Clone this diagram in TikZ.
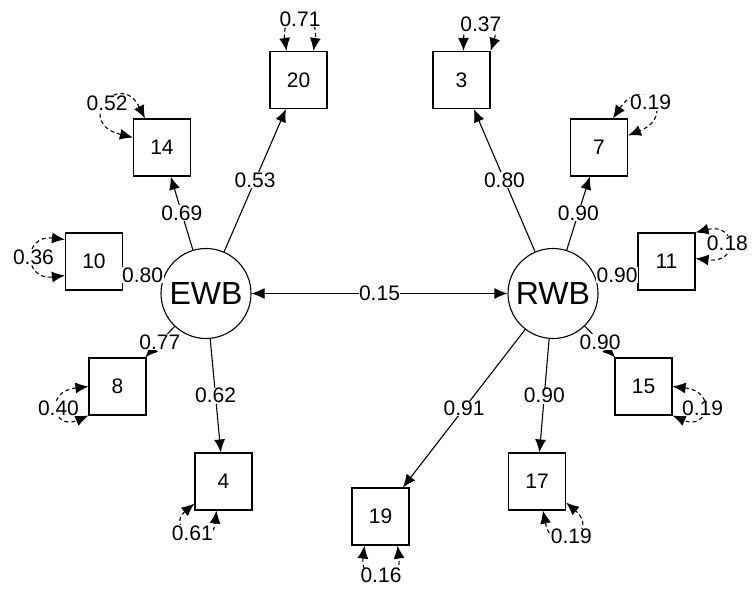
\documentclass[tikz,border=0pt]{standalone}
\usepackage{fontspec}
\setmainfont{Liberation Sans}
\usetikzlibrary{arrows.meta}
\tikzset{
  obs/.style={draw, line width=1.1pt, minimum size=57pt, inner sep=0pt, font=\fontsize{21}{25}\selectfont},
  lat/.style={draw, circle, line width=1.1pt, minimum size=90pt, inner sep=0pt, font=\fontsize{32}{38}\selectfont},
  load/.style={line width=1.1pt, -{Latex[length=13pt,width=11pt]}},
  bidir/.style={line width=1.1pt, {Latex[length=13pt,width=11pt]}-{Latex[length=13pt,width=11pt]}},
  resid/.style={line width=1.1pt, dash pattern=on 4pt off 3pt, {Latex[length=13pt,width=11pt]}-{Latex[length=13pt,width=11pt]}},
  lbl/.style={fill=white, inner sep=0.5pt, font=\fontsize{21}{25}\selectfont},
}
\begin{document}
\begin{tikzpicture}[x=1pt,y=-1pt]
\useasboundingbox (0,0) rectangle (755,590);
% latent variables
\node[lat] (ewb) at (206,293.5) {EWB};
\node[lat] (rwb) at (553,293.5) {RWB};
% observed variables
\node[obs] (b20) at (298.5,80) {20};
\node[obs] (b14) at (162,147.5) {14};
\node[obs] (b10) at (94,261.5) {10};
\node[obs] (b8) at (117.5,386.5) {8};
\node[obs] (b4) at (223.5,481.5) {4};
\node[obs] (b19) at (380.5,516.5) {19};
\node[obs] (b3) at (461.5,80) {3};
\node[obs] (b7) at (599,147.5) {7};
\node[obs] (b11) at (666.5,261.5) {11};
\node[obs] (b15) at (643.5,386.5) {15};
\node[obs] (b17) at (537,481.5) {17};
% loadings
\draw[load] (ewb) -- node[lbl] {0.53} (b20);
\draw[load] (ewb) -- node[lbl] {0.69} (b14);
\draw[load] (ewb) -- node[lbl] {0.80} (b10);
\draw[load] (ewb) -- node[lbl] {0.77} (b8);
\draw[load] (ewb) -- node[lbl] {0.62} (b4);
\draw[load] (rwb) -- node[lbl] {0.80} (b3);
\draw[load] (rwb) -- node[lbl] {0.90} (b7);
\draw[load] (rwb) -- node[lbl] {0.90} (b11);
\draw[load] (rwb) -- node[lbl] {0.90} (b15);
\draw[load] (rwb) -- node[lbl] {0.90} (b17);
\draw[load] (rwb) -- node[lbl] {0.91} (b19);
% covariance
\draw[bidir] (ewb) -- node[lbl] {0.15} (rwb);
% residual variances
\draw[resid] ([xshift=-12pt]b20.north) .. controls +(-6,-42) and +(6,-42) .. node[lbl] {0.71} ([xshift=15pt]b20.north);
\draw[resid] ([xshift=2pt]b3.north) .. controls +(0,-40) and +(10,-30) .. node[lbl] {0.37} (b3.north east);
\draw[resid] ([xshift=-17pt]b14.north) .. controls +(-25,-50) and +(-60,-15) .. node[lbl] {0.52} ([yshift=10pt]b14.west);
\draw[resid] ([yshift=22pt]b10.west) .. controls +(-42,-5) and +(-42,5) .. node[lbl] {0.36} ([yshift=-14pt]b10.west);
\draw[resid] (b8.west) .. controls +(-45,5) and +(-35,15) .. node[lbl] {0.40} (b8.south west);
\draw[resid] ([yshift=-22pt]b4.west) .. controls +(-30,25) and +(-5,45) .. node[lbl] {0.61} ([xshift=-7pt]b4.south);
\draw[resid] ([xshift=-16pt]b19.south) .. controls +(-5,40) and +(5,40) .. node[lbl] {0.16} ([xshift=17pt]b19.south);
\draw[resid] ([xshift=6pt]b17.south) .. controls +(10,50) and +(35,30) .. node[lbl] {0.19} ([yshift=-21pt]b17.east);
\draw[resid] (b15.east) .. controls +(45,5) and +(35,15) .. node[lbl] {0.19} (b15.south east);
\draw[resid] (b11.north east) .. controls +(40,-10) and +(45,5) .. node[lbl] {0.18} ([yshift=3pt]b11.east);
\draw[resid] ([xshift=14pt]b7.north) .. controls +(30,-45) and +(50,-20) .. node[lbl] {0.19} ([yshift=12pt]b7.east);
\end{tikzpicture}
\end{document}
